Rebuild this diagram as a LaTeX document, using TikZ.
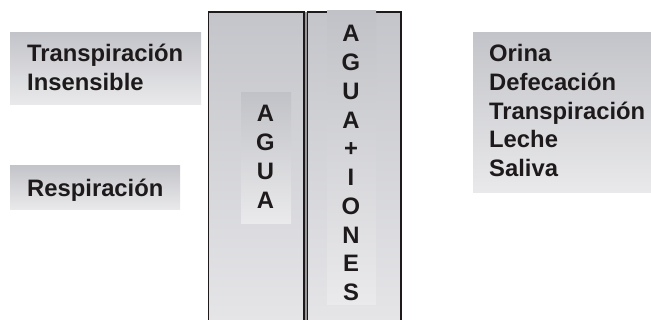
\documentclass[tikz,border=0pt]{standalone}
\usepackage{fontspec}
\setmainfont{Liberation Sans}[BoldFont={Liberation Sans Bold}]
\definecolor{ink}{RGB}{30,26,27}
\definecolor{boxtop}{RGB}{195,196,201}
\definecolor{boxbot}{RGB}{233,233,235}
\definecolor{coltop}{RGB}{196,197,202}
\definecolor{colbot}{RGB}{229,229,232}
\definecolor{intop}{RGB}{193,194,199}
\definecolor{inbot}{RGB}{234,234,236}
\definecolor{gapgray}{RGB}{150,150,152}
\begin{document}
\begin{tikzpicture}[x=1pt,y=-1pt,
  shadebox/.style={draw=none, top color=boxtop, bottom color=boxbot, inner sep=0, anchor=north west},
  innerbox/.style={draw=none, top color=intop, bottom color=inbot, inner sep=0, anchor=north west},
  lbl/.style={font=\bfseries\fontsize{23.8}{28.8}\selectfont, text=ink, inner sep=0, anchor=base west},
  letter/.style={font=\bfseries\fontsize{23.8}{28.8}\selectfont, text=ink, inner sep=0, anchor=base},
  colborder/.style={draw=ink, line width=1.7pt}]
\useasboundingbox (0,0) rectangle (651,320);
% left boxes
\node[shadebox, minimum width=191pt, minimum height=72pt] (b1) at (10,32) {};
\node[shadebox, minimum width=170pt, minimum height=44pt] (b2) at (10,165) {};
\node[lbl] (t1) at (27,61.7) {Transpiración};
\node[lbl] (t2) at (27,90.7) {Insensible};
\node[lbl] (t3) at (27,196.5) {Respiración};
% right box
\node[shadebox, minimum width=178pt, minimum height=160pt] (b3) at (473,32) {};
\foreach \w [count=\i] in {Orina,Defecación,Transpiración,Leche,Saliva}
  \node[lbl] (r\i) at (489,{61.7+28.75*(\i-1)}) {\w};
% columns
\fill[gapgray] (304,12) rectangle (307.5,320);
\fill[top color=coltop, bottom color=colbot] (208.5,12) rectangle (304,320);
\fill[top color=coltop, bottom color=colbot] (307.5,12) rectangle (401,320);
\node[innerbox, minimum width=50pt, minimum height=131pt] (ib1) at (241,92) {};
\draw[colborder] (208.5,321) -- (208.5,12) -- (304,12) -- (304,321);
\draw[colborder] (307.5,321) -- (307.5,12) -- (401,12) -- (401,321);
\node[innerbox, minimum width=49pt, minimum height=294pt] (ib2) at (327,10.5) {};
\foreach \l/\yy [count=\i] in {A/122,G/151,U/180,A/209}
  \node[letter] (a\i) at (265.5,\yy) {\l};
\foreach \l/\yy [count=\i] in {A/42,G/71,U/100,A/128.5,+/157,I/186,O/215,N/243.5,E/272,S/301}
  \node[letter] (c\i) at (351,\yy) {\l};
\end{tikzpicture}
\end{document}
